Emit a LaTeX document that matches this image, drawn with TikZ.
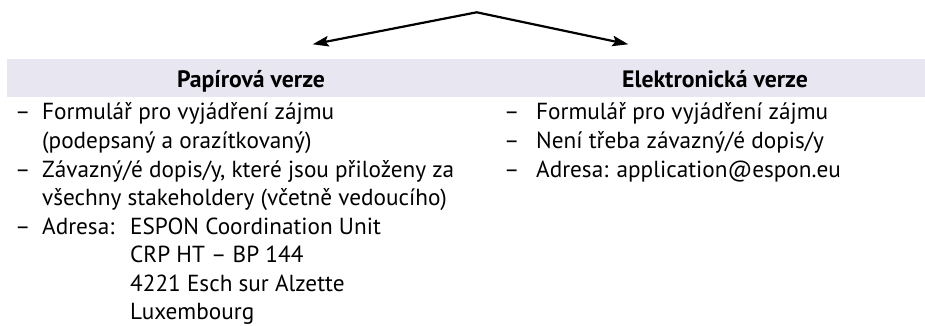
\documentclass[tikz,border=0pt]{standalone}
\usepackage{fontspec}
\setmainfont{PT Sans}
\usetikzlibrary{arrows.meta}
\definecolor{bandgray}{RGB}{232,231,241}
\newlength\mymeasure
\newcommand\mybodyfont{\fontsize{\mybodysize pt}{28.5pt}\selectfont}
\newcommand\myheadfont{\fontsize{\myheadsize pt}{28pt}\selectfont\bfseries}
\begin{document}
\settowidth\mymeasure{\fontsize{10pt}{12pt}\selectfont Formulář pro vyjádření zájmu}%
\pgfmathsetmacro\mybodysize{10*292/\mymeasure}%
\settowidth\mymeasure{\fontsize{10pt}{12pt}\selectfont\bfseries Papírová verze}%
\pgfmathsetmacro\myheadsize{10*148/\mymeasure}%
\begin{tikzpicture}[x=1pt,y=-1pt,
  txt/.style={anchor=base west, inner sep=0pt, font=\mybodyfont},
  head/.style={anchor=base, inner sep=0pt, font=\myheadfont},
  conn/.style={line width=2.2pt, {Stealth[length=16pt,width=10.5pt,inset=3pt]}-{Stealth[length=16pt,width=10.5pt,inset=3pt]}}]
\useasboundingbox (0,0) rectangle (925,326);
% band
\fill[bandgray] (6.7,59.3) rectangle (925,96.7);
% arrows
\coordinate (top) at (476.7,12.3);
\coordinate (lt) at (312.7,44.3);
\coordinate (rt) at (628.3,44.3);
\draw[conn] (lt) -- (top) -- (rt);
% headers
\node[head] (h1) at (251,87.5) {Papírová verze};
\node[head] (h2) at (715,87.5) {Elektronická verze};
% left list
\node[txt] (ld1) at (15,120) {–};
\node[txt] (l1) at (42,120) {Formulář pro vyjádření zájmu};
\node[txt] (l2) at (42,148.5) {(podepsaný a orazítkovaný)};
\node[txt] (ld2) at (15,177) {–};
\node[txt] (l3) at (42,177) {Závazný/é dopis/y, které jsou přiloženy za};
\node[txt] (l4) at (42,205.5) {všechny stakeholdery (včetně vedoucího)};
\node[txt] (ld3) at (15,234) {–};
\node[txt] (l5) at (42,234) {Adresa:};
\node[txt] (l6) at (130,234) {ESPON Coordination Unit};
\node[txt] (l7) at (130,262.5) {CRP HT – BP 144};
\node[txt] (l8) at (130,291) {4221 Esch sur Alzette};
\node[txt] (l9) at (130,319.5) {Luxembourg};
% right list
\node[txt] (rd1) at (504,120) {–};
\node[txt] (r1) at (536,120) {Formulář pro vyjádření zájmu};
\node[txt] (rd2) at (504,148.5) {–};
\node[txt] (r2) at (536,148.5) {Není třeba závazný/é dopis/y};
\node[txt] (rd3) at (504,177) {–};
\node[txt] (r3) at (536,177) {Adresa: application@espon.eu};
\end{tikzpicture}
\end{document}
